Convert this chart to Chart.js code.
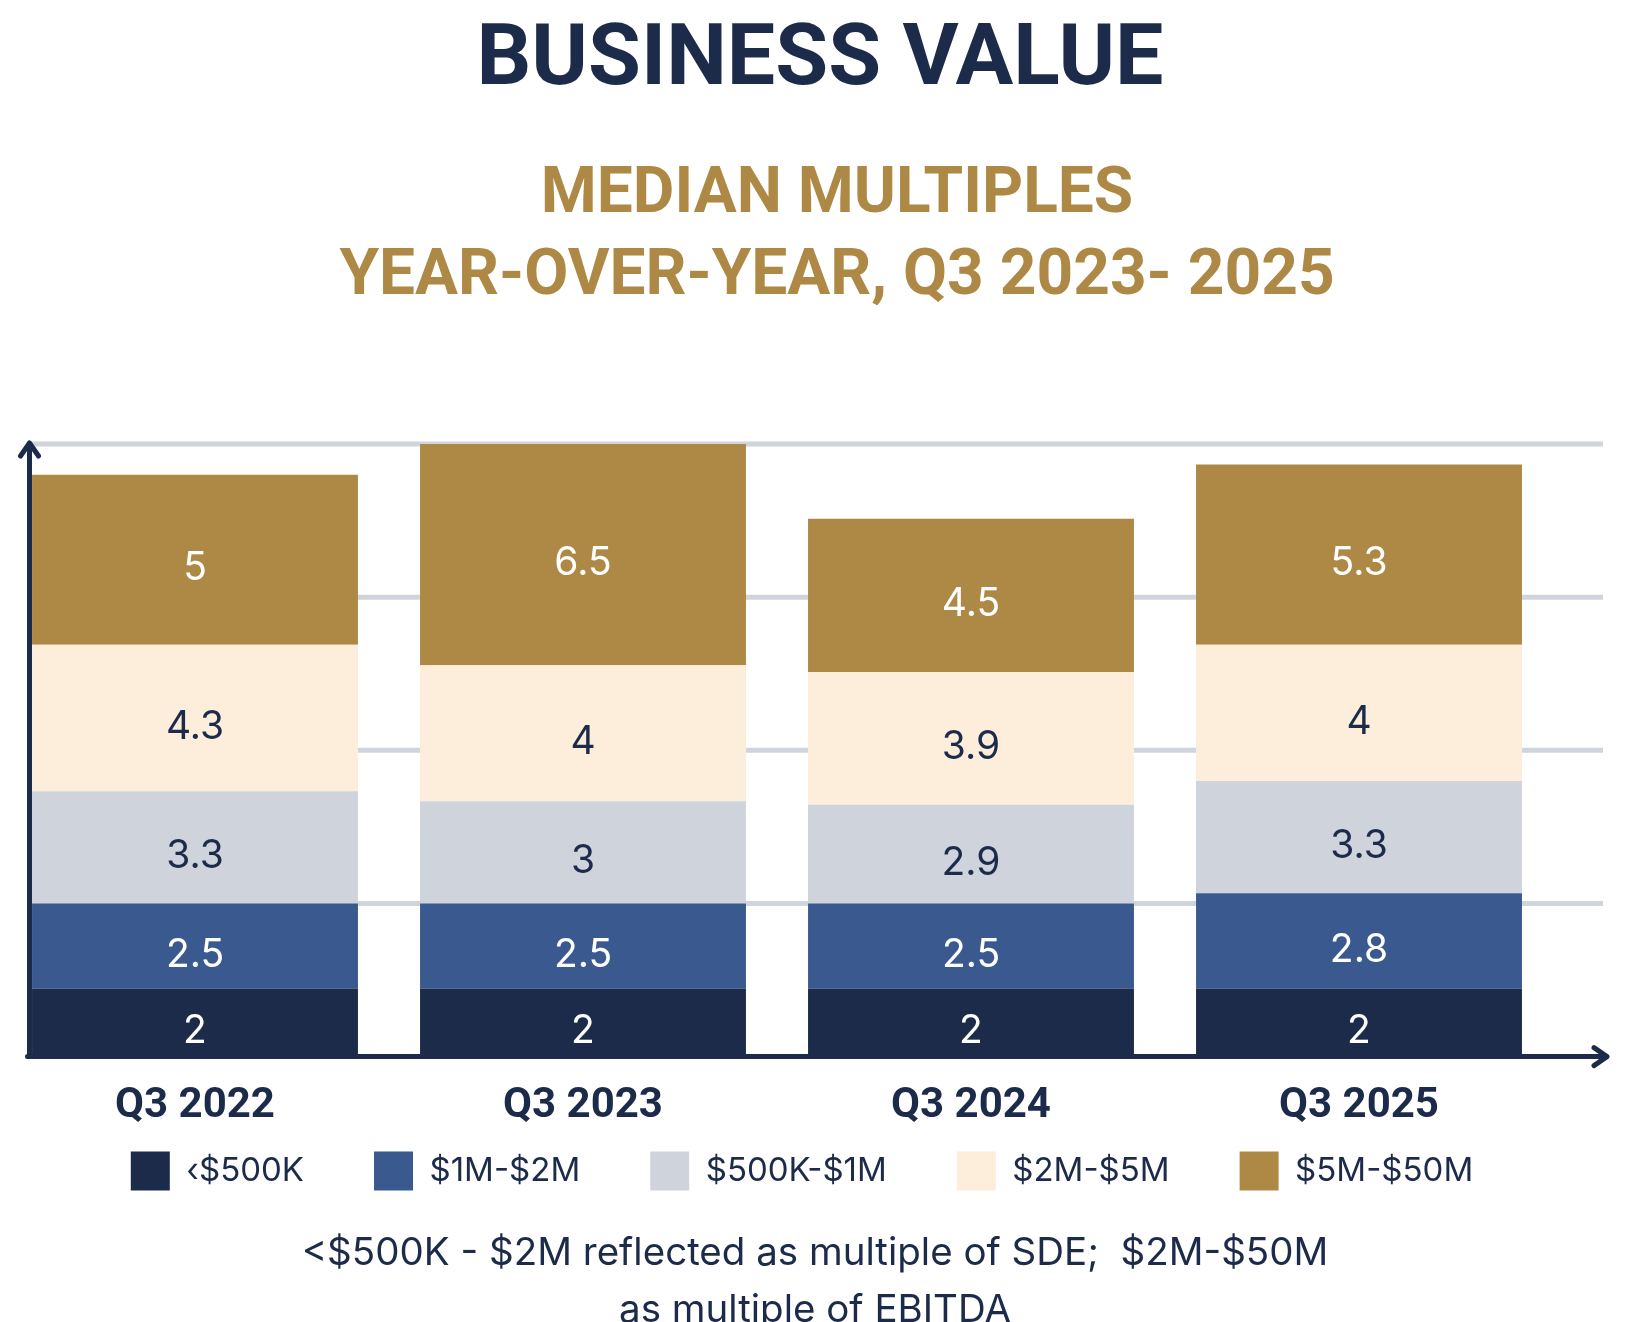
<!DOCTYPE html>
<html>
<head>
<meta charset="utf-8">
<script src="https://cdn.jsdelivr.net/npm/chart.js@4.4.1/dist/chart.umd.min.js"></script>
<style>
  html, body { margin: 0; padding: 0; background: #fff; }
  #page { position: relative; width: 1634px; height: 1322px; overflow: hidden; }
  #chart { position: absolute; left: 0; top: 0; }
  .txt { position: absolute; left: 0; width: 1634px; text-align: center; white-space: pre; }
  #title { top: 12px; font-family: Roboto, sans-serif; font-size: 86px; line-height: 86px; font-weight: 700; color: #1d2b4b; left: 3px; }
  #subtitle { top: 150px; font-family: Roboto, sans-serif; font-size: 64px; line-height: 82px; font-weight: 700; color: #ae8946; left: 20px; }
  #note { top: 1223px; font-family: Inter, sans-serif; font-size: 38.5px; line-height: 57px; font-weight: 400; color: #1d2b4b; left: -2px; }
</style>
</head>
<body>
<div id="page">
  <canvas id="chart" width="1634" height="1322"></canvas>
  <div class="txt" id="title">BUSINESS VALUE</div>
  <div class="txt" id="subtitle">MEDIAN MULTIPLES
YEAR-OVER-YEAR, Q3 2023- 2025</div>
  <div class="txt" id="note">&lt;$500K - $2M reflected as multiple of SDE;  $2M-$50M
as multiple of EBITDA</div>
</div>
<script>
// quarters on the x axis
const quarters = ['Q3 2022', 'Q3 2023', 'Q3 2024', 'Q3 2025'];

// median multiples per size band, bottom of the stack first
const under500k = [2, 2, 2, 2];
const m1to2 = [2.5, 2.5, 2.5, 2.8];
const k500to1m = [3.3, 3, 2.9, 3.3];
const m2to5 = [4.3, 4, 3.9, 4];
const m5to50 = [5, 6.5, 4.5, 5.3];

// background guide lines
const yTicks = [4.5, 9, 13.5, 18];

const navy = '#1d2b4b';

Chart.defaults.font.family = 'Inter, sans-serif';

const gridLines = {
  id: 'gridLines',
  beforeDatasetsDraw(chart) {
    const ctx = chart.ctx;
    const y = chart.scales.y;
    const area = chart.chartArea;
    ctx.save();
    ctx.strokeStyle = '#d0d4dc';
    ctx.lineWidth = 5;
    yTicks.forEach(v => {
      const py = y.getPixelForValue(v);
      ctx.beginPath();
      ctx.moveTo(area.left + 29, py);
      ctx.lineTo(area.right + 50, py);
      ctx.stroke();
    });
    ctx.restore();
  }
};

const valueLabels = {
  id: 'valueLabels',
  afterDatasetsDraw(chart) {
    const ctx = chart.ctx;
    ctx.save();
    ctx.font = '39px Inter, sans-serif';
    ctx.textAlign = 'center';
    ctx.textBaseline = 'middle';
    chart.data.datasets.forEach((ds, i) => {
      const meta = chart.getDatasetMeta(i);
      meta.data.forEach((bar, j) => {
        ctx.fillStyle = ds.labelColor;
        ctx.fillText(String(ds.data[j]), bar.x, (bar.y + bar.base) / 2 + 9);
      });
    });
    ctx.restore();
  }
};

const arrowAxes = {
  id: 'arrowAxes',
  afterDatasetsDraw(chart) {
    const ctx = chart.ctx;
    const y = chart.scales.y;
    const area = chart.chartArea;
    const x0 = area.left + 28.5;
    const y0 = y.getPixelForValue(0);
    const yTop = y.getPixelForValue(yTicks[yTicks.length - 1]) - 1;
    const xEnd = area.right + 54;
    ctx.save();
    ctx.strokeStyle = navy;
    ctx.lineWidth = 5;
    ctx.lineCap = 'round';
    ctx.lineJoin = 'round';
    // y axis
    ctx.beginPath();
    ctx.moveTo(x0, y0);
    ctx.lineTo(x0, yTop);
    ctx.moveTo(x0 - 9, yTop + 13);
    ctx.lineTo(x0, yTop);
    ctx.lineTo(x0 + 9, yTop + 13);
    ctx.stroke();
    // x axis
    ctx.beginPath();
    ctx.moveTo(x0 - 2, y0);
    ctx.lineTo(xEnd, y0);
    ctx.moveTo(xEnd - 13, y0 - 9);
    ctx.lineTo(xEnd, y0);
    ctx.lineTo(xEnd - 13, y0 + 9);
    ctx.stroke();
    ctx.restore();
  }
};

// pull the legend up under the quarter labels and a bit to the right
const legendPlace = {
  id: 'legendPlace',
  afterLayout(chart) {
    const lg = chart.legend;
    const dy = lg.top - (chart.chartArea.bottom + 25);
    lg.top -= dy;
    lg.bottom -= dy;
    lg.left += 25;
    lg.right += 25;
  }
};

new Chart(document.getElementById('chart'), {
  type: 'bar',
  data: {
    labels: quarters,
    datasets: [
      { label: '‹$500K', data: under500k, backgroundColor: '#1d2b4b', labelColor: '#ffffff' },
      { label: '$1M-$2M', data: m1to2, backgroundColor: '#3a5a8f', labelColor: '#ffffff' },
      { label: '$500K-$1M', data: k500to1m, backgroundColor: '#cfd3dc', labelColor: navy },
      { label: '$2M-$5M', data: m2to5, backgroundColor: '#fceeda', labelColor: navy },
      { label: '$5M-$50M', data: m5to50, backgroundColor: '#ae8946', labelColor: '#ffffff' }
    ]
  },
  options: {
    responsive: false,
    animation: false,
    devicePixelRatio: 1,
    layout: { padding: { top: 444, left: 1, right: 81, bottom: 46 } },
    datasets: { bar: { barPercentage: 0.84, categoryPercentage: 1, borderWidth: 0 } },
    scales: {
      x: {
        stacked: true,
        grid: { display: false, drawTicks: false },
        border: { display: false },
        ticks: { color: navy, padding: 25, font: { family: 'Roboto, sans-serif', size: 42, weight: 'bold' } }
      },
      y: {
        stacked: true,
        display: false,
        min: 0,
        max: 18
      }
    },
    plugins: {
      legend: {
        position: 'bottom',
        labels: {
          boxWidth: 39,
          boxHeight: 39,
          padding: 70,
          color: navy,
          font: { size: 33 }
        }
      },
      tooltip: { enabled: false }
    }
  },
  plugins: [gridLines, valueLabels, arrowAxes, legendPlace]
});
</script>
</body>
</html>
